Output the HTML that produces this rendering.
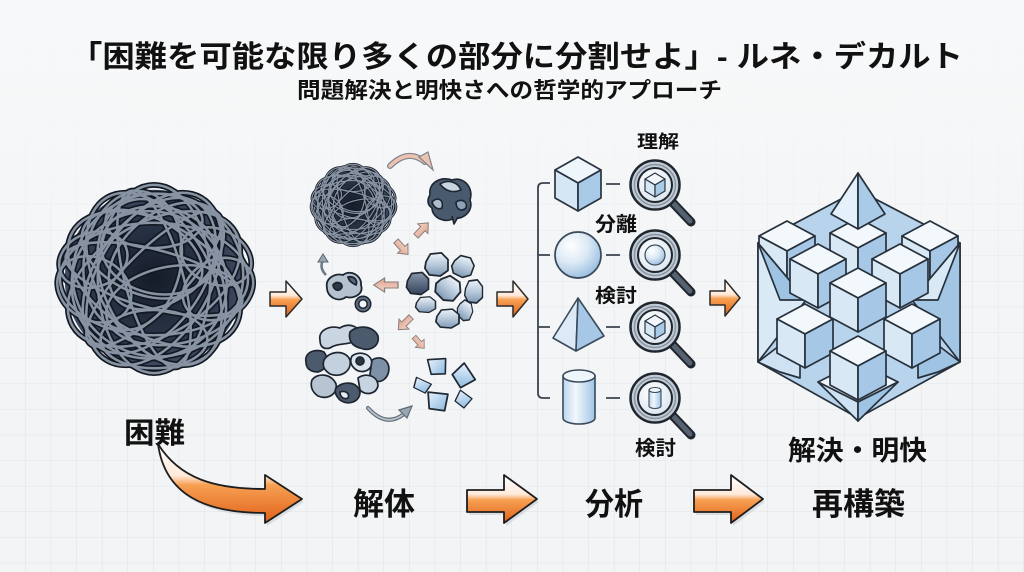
<!DOCTYPE html>
<html><head><meta charset="utf-8">
<style>
html,body{margin:0;padding:0;width:1024px;height:572px;overflow:hidden;background:#f3f5f7}
svg{display:block}
text{font-family:"Liberation Sans","Noto Sans CJK JP",sans-serif;font-weight:700;fill:#111}
</style></head><body>
<svg width="1024" height="572" viewBox="0 0 1024 572" xmlns="http://www.w3.org/2000/svg" xmlns:xlink="http://www.w3.org/1999/xlink">
<defs>
<pattern id="grid" width="25.6" height="25.6" patternUnits="userSpaceOnUse">
<path d="M25.6 0 V25.6 M0 25.6 H25.6" stroke="#dde2e7" stroke-width="1" fill="none"/>
</pattern>
<linearGradient id="bgfade" x1="0" y1="0" x2="0" y2="1">
<stop offset="0" stop-color="#f7f8f9" stop-opacity="1"/>
<stop offset="0.2" stop-color="#f7f8f9" stop-opacity="0.85"/>
<stop offset="0.45" stop-color="#f7f8f9" stop-opacity="0.25"/>
<stop offset="1" stop-color="#f7f8f9" stop-opacity="0"/>
</linearGradient>
<radialGradient id="ballbg" cx="0.5" cy="0.5" r="0.5">
<stop offset="0" stop-color="#151c27"/>
<stop offset="0.7" stop-color="#2a364a"/>
<stop offset="1" stop-color="#3e4b62"/>
</radialGradient>
<linearGradient id="og" x1="0" y1="0" x2="0" y2="1">
<stop offset="0" stop-color="#ffffff"/>
<stop offset="0.4" stop-color="#ffeadb"/>
<stop offset="0.52" stop-color="#f7a052"/>
<stop offset="1" stop-color="#df611a"/>
</linearGradient>
<linearGradient id="peach" x1="0" y1="0" x2="0" y2="1">
<stop offset="0" stop-color="#f6d6c8"/>
<stop offset="1" stop-color="#dca390"/>
</linearGradient>
<linearGradient id="rockg" x1="0" y1="0" x2="0" y2="1">
<stop offset="0" stop-color="#eef3f8"/>
<stop offset="0.5" stop-color="#b9cadb"/>
<stop offset="1" stop-color="#7f99b3"/>
</linearGradient>
<linearGradient id="darkrock" x1="0" y1="0" x2="0" y2="1">
<stop offset="0" stop-color="#8797aa"/>
<stop offset="1" stop-color="#34425a"/>
</linearGradient>
<linearGradient id="cryst" x1="0" y1="0" x2="1" y2="1">
<stop offset="0" stop-color="#e8f2fb"/>
<stop offset="1" stop-color="#86b5de"/>
</linearGradient>
<radialGradient id="sph" cx="0.35" cy="0.3" r="0.75">
<stop offset="0" stop-color="#ffffff"/>
<stop offset="0.5" stop-color="#dce9f5"/>
<stop offset="1" stop-color="#98bddf"/>
</radialGradient>
<linearGradient id="cyl" x1="0" y1="0" x2="1" y2="0">
<stop offset="0" stop-color="#bcd7ee"/>
<stop offset="0.4" stop-color="#f1f7fc"/>
<stop offset="1" stop-color="#9fc4e5"/>
</linearGradient>
<radialGradient id="lens" cx="0.4" cy="0.35" r="0.7">
<stop offset="0" stop-color="#ffffff"/>
<stop offset="1" stop-color="#dbe6f0"/>
</radialGradient>

<g id="loops" fill="none">
<ellipse rx="97" ry="58"/>
<ellipse rx="97" ry="58" transform="rotate(30)"/>
<ellipse rx="97" ry="58" transform="rotate(60)"/>
<ellipse rx="97" ry="58" transform="rotate(90)"/>
<ellipse rx="97" ry="58" transform="rotate(120)"/>
<ellipse rx="97" ry="58" transform="rotate(150)"/>
<ellipse rx="94" ry="30" transform="rotate(15)"/>
<ellipse rx="94" ry="30" transform="rotate(75)"/>
<ellipse rx="94" ry="30" transform="rotate(135)"/>
<ellipse cx="4" cy="-4" rx="88" ry="84"/>
<ellipse cx="-5" cy="6" rx="80" ry="76"/>
<ellipse cx="6" cy="6" rx="60" ry="90" transform="rotate(-25)"/>
<ellipse cx="-6" cy="0" rx="55" ry="90" transform="rotate(35)"/>
<ellipse cx="25" cy="-10" rx="68" ry="44" transform="rotate(-40)"/>
<ellipse cx="-22" cy="-18" rx="66" ry="40" transform="rotate(25)"/>
<ellipse cx="-15" cy="25" rx="72" ry="50" transform="rotate(100)"/>
<ellipse cx="15" cy="30" rx="70" ry="40" transform="rotate(-10)"/>
<ellipse cx="0" cy="-30" rx="60" ry="45" transform="rotate(10)"/>
<ellipse cx="-48" cy="40" rx="40" ry="32" transform="rotate(30)"/>
<ellipse cx="52" cy="42" rx="38" ry="30" transform="rotate(-30)"/>
<ellipse cx="-52" cy="-40" rx="36" ry="28" transform="rotate(-20)"/>
<ellipse cx="48" cy="-48" rx="38" ry="28" transform="rotate(25)"/>
<ellipse cx="0" cy="62" rx="55" ry="30"/>
<ellipse cx="0" cy="-60" rx="50" ry="28"/>
</g>

<g id="cube" stroke="#27313c" stroke-width="1.7" stroke-linejoin="round">
<path d="M0,0 L28,15 L0,30 L-28,15Z" fill="#f3f8fc"/>
<path d="M-28,15 L0,30 L0,64 L-28,49Z" fill="#d8e8f5"/>
<path d="M0,30 L28,15 L28,49 L0,64Z" fill="#a6c8e6"/>
</g>

<path id="rock" d="M-10,-3 L-6,-10 L4,-11 L10,-5 L10,5 L3,10 L-7,9 L-11,3Z" fill="url(#rockg)" stroke="#1f2833" stroke-width="1.6" stroke-linejoin="round"/>
<path id="drock" d="M-10,-3 L-6,-10 L4,-11 L10,-5 L10,5 L3,10 L-7,9 L-11,3Z" fill="url(#darkrock)" stroke="#1f2833" stroke-width="1.6" stroke-linejoin="round"/>
<path id="crys" d="M-9,-9 L9,-7 L6,8 L-8,6Z" fill="url(#cryst)" stroke="#1f2833" stroke-width="1.6" stroke-linejoin="round"/>
<path id="parrow" d="M0,-3 H10 V-7 L18,0 L10,7 V3 H0 Z" fill="url(#peach)" stroke="#8c7f7a" stroke-width="1"/>

<g id="mag">
<line x1="17" y1="17" x2="36" y2="37" stroke="#1f262e" stroke-width="9" stroke-linecap="round"/>
<line x1="19" y1="19" x2="35" y2="36" stroke="#56626f" stroke-width="5" stroke-linecap="round"/>
<circle r="24.5" fill="#c3ccd6" stroke="#1f262e" stroke-width="2.5"/>
<circle r="20.5" fill="none" stroke="#8794a2" stroke-width="1.5"/>
<circle r="17" fill="url(#lens)" stroke="#1f262e" stroke-width="2"/>
</g>
<g id="mcube" stroke="#2a3440" stroke-width="1.2" stroke-linejoin="round">
<path d="M0,0 L10,6 L0,12 L-10,6Z" fill="#f0f6fb"/>
<path d="M-10,6 L0,12 L0,24 L-10,18Z" fill="#d6e7f5"/>
<path d="M0,12 L10,6 L10,18 L0,24Z" fill="#a8cae7"/>
</g>
</defs>

<!-- background -->
<rect width="1024" height="572" fill="#f2f4f6"/>
<rect width="1024" height="572" fill="url(#grid)"/>
<rect width="1024" height="572" fill="url(#bgfade)"/>

<!-- titles -->
<text x="70" y="67" font-size="30" textLength="893" lengthAdjust="spacingAndGlyphs">「困難を可能な限り多くの部分に分割せよ」- ルネ・デカルト</text>
<text x="297" y="98" font-size="22" textLength="425" lengthAdjust="spacingAndGlyphs">問題解決と明快さへの哲学的アプローチ</text>

<!-- big tangled ball -->
<g transform="translate(154,279) scale(0.97)">
<circle r="92" fill="url(#ballbg)"/>
<use href="#loops" xlink:href="#loops" stroke="#121822" stroke-width="6"/>
<use href="#loops" xlink:href="#loops" stroke="#8793a2" stroke-width="2.6"/>
</g>

<!-- small arrows orange -->
<g stroke="#2a2a2a" stroke-width="1.5" stroke-linejoin="round" fill="url(#og)">
<path d="M270,292 H286 V281 L302,299 L286,317 V306 H270 Z"/>
<path d="M497,292 H513 V281 L528,299 L513,317 V306 H497 Z"/>
<path d="M710,291 H725 V280 L740,298 L725,316 V305 H710 Z"/>
</g>

<!-- middle: decomposition -->
<g transform="translate(353,205) scale(0.42)">
<circle r="92" fill="url(#ballbg)"/>
<use href="#loops" xlink:href="#loops" stroke="#121822" stroke-width="6.5"/>
<use href="#loops" xlink:href="#loops" stroke="#8793a2" stroke-width="2.8"/>
</g>
<!-- top curved arrow -->
<path d="M390,166 Q408,148 425,162" fill="none" stroke="#7b848e" stroke-width="6" stroke-linecap="round"/>
<path d="M390,166 Q408,148 425,162" fill="none" stroke="#eec2b1" stroke-width="3.5" stroke-linecap="round"/>
<path d="M419,157 L433,170 L428,152Z" fill="#eec2b1" stroke="#7b848e" stroke-width="1.2"/>
<!-- small clump -->
<g transform="translate(450,200)" stroke="#1d2530" stroke-width="1.6" stroke-linejoin="round">
<path d="M-20,-5 C-22,-18 -8,-24 2,-20 C14,-24 24,-12 20,0 C24,10 14,20 4,18 C-4,24 -18,18 -18,8 C-24,4 -22,-2 -20,-5Z" fill="#4a5a6e"/>
<path d="M-10,-16 C-2,-21 8,-18 11,-10 C4,-7 -4,-8 -10,-16Z" fill="#c8d4e0"/>
<path d="M-18,2 C-12,-4 -6,0 -8,8 C-12,10 -16,8 -18,2Z" fill="#aebdcc"/>
<path d="M6,2 C12,-2 18,2 16,8 C12,12 6,10 6,2Z" fill="#8ea1b5"/>
<path d="M2,16 L4,24 L8,17" fill="#4a5a6e"/>
</g>
<!-- peach arrows -->
<use href="#parrow" xlink:href="#parrow" transform="translate(416,236) rotate(-47)"/>
<use href="#parrow" xlink:href="#parrow" transform="translate(396,241) rotate(48)"/>
<use href="#parrow" xlink:href="#parrow" transform="translate(398,285) rotate(180) scale(1.35,1)"/>
<use href="#parrow" xlink:href="#parrow" transform="translate(411,317) rotate(135)"/>
<use href="#parrow" xlink:href="#parrow" transform="translate(414,337) rotate(48) scale(0.85)"/>
<!-- small up arrow -->
<path d="M326,275 Q319,268 323,260" fill="none" stroke="#6e7985" stroke-width="2.5"/>
<path d="M318,262 L323,254 L328,262Z" fill="#9aa6b2" stroke="#5a6570" stroke-width="1"/>
<!-- left pieces -->
<g stroke="#1d2530" stroke-width="1.8" stroke-linejoin="round">
<path d="M327,288 C325,278 335,273 343,275 C351,269 362,276 361,285 C364,294 354,299 346,297 C338,303 327,297 327,288Z" fill="#b4c1cf"/>
<path d="M333,285 C336,281 342,282 342,287 C340,292 334,291 333,285Z" fill="#2d3846"/>
<path d="M348,277 C354,276 358,280 356,285 C352,283 349,281 348,277Z" fill="#5a6a7e"/>
<circle cx="363" cy="304" r="6" fill="none" stroke="#1d2530" stroke-width="5"/>
<circle cx="363" cy="304" r="6" fill="none" stroke="#5d6c7e" stroke-width="2"/>
</g>
<!-- right rock cluster -->
<use href="#rock" xlink:href="#rock" transform="translate(437,265) scale(1.1)"/>
<use href="#rock" xlink:href="#rock" transform="translate(463,267) rotate(20)"/>
<use href="#drock" xlink:href="#drock" transform="translate(418,284) scale(1.05)"/>
<use href="#rock" xlink:href="#rock" transform="translate(448,289) scale(1.15) rotate(40)"/>
<use href="#rock" xlink:href="#rock" transform="translate(474,292) scale(0.85,1.1)"/>
<use href="#rock" xlink:href="#rock" transform="translate(426,305) scale(0.95,0.75)"/>
<use href="#rock" xlink:href="#rock" transform="translate(465,311) scale(0.7,0.95) rotate(30)"/>
<use href="#rock" xlink:href="#rock" transform="translate(448,319) scale(1.1,0.9)"/>
<!-- bottom-left clump -->
<g stroke="#1d2530" stroke-width="1.7" stroke-linejoin="round">
<path d="M320,340 C318,330 330,325 340,328 C348,322 362,326 360,338 C352,346 338,342 330,348 C322,350 320,345 320,340Z" fill="#c9d5e1"/>
<path d="M350,332 C358,324 374,326 378,336 C380,346 370,352 360,348 C352,346 348,340 350,332Z" fill="#4b5a6d"/>
<path d="M306,362 C304,352 316,348 324,352 C330,360 326,370 318,372 C310,372 306,368 306,362Z" fill="#4b5a6d"/>
<path d="M324,360 C330,350 346,350 350,360 C352,372 340,378 330,374 C324,370 322,366 324,360Z" fill="#c3d0dd"/>
<path d="M352,356 C360,350 372,354 372,364 C370,372 360,374 354,368 C350,364 350,360 352,356Z" fill="#dce5ee"/>
<circle cx="360" cy="361" r="4" fill="#2b3644"/>
<path d="M372,360 C382,354 392,362 388,374 C384,384 372,384 370,374 Z" fill="#7d90a6"/>
<path d="M312,380 C318,372 332,374 336,384 C338,394 328,400 318,396 C312,392 310,386 312,380Z" fill="#b7c5d3"/>
<path d="M336,388 C344,380 358,382 360,392 C360,402 348,406 340,400 C336,396 334,392 336,388Z" fill="#4b5a6d"/>
<path d="M358,378 C366,372 378,376 378,386 C376,394 366,396 360,390Z" fill="#c6d3e0"/>
<path d="M340,392 C346,390 350,394 348,398 C344,400 340,397 340,392Z" fill="#e6edf4"/>
</g>
<!-- crystals -->
<use href="#crys" xlink:href="#crys" transform="translate(438,367) rotate(-10)"/>
<use href="#crys" xlink:href="#crys" transform="translate(463,377) rotate(50) scale(1.1)"/>
<use href="#crys" xlink:href="#crys" transform="translate(422,386) rotate(20) scale(0.9,0.7)"/>
<use href="#crys" xlink:href="#crys" transform="translate(438,402) scale(1.1)"/>
<use href="#crys" xlink:href="#crys" transform="translate(463,400) rotate(30) scale(0.8)"/>
<!-- bottom gray curved arrow -->
<path d="M368,408 Q386,428 404,414" fill="none" stroke="#5f6a76" stroke-width="4" stroke-linecap="round"/>
<path d="M368,408 Q386,428 404,414" fill="none" stroke="#b9c2cc" stroke-width="1.8" stroke-linecap="round"/>
<path d="M399,410 L412,406 L407,418Z" fill="#9aa6b2" stroke="#5f6a76" stroke-width="1.2"/>

<!-- analysis column -->
<g fill="none" stroke="#3a4350" stroke-width="1.8">
<path d="M550,183 H543 Q538,183 538,188 V393 Q538,398 543,398 H550"/>
<path d="M538,255 H550 M538,327 H550"/>
<path d="M606,184 H620 M606,255 H620 M606,327 H620 M606,398 H620"/>
</g>
<!-- cube -->
<g stroke="#2a3440" stroke-width="1.7" stroke-linejoin="round">
<path d="M578,157 L601,170 L578,183 L555,170Z" fill="#eef5fb"/>
<path d="M555,170 L578,183 L578,211 L555,198Z" fill="#d5e6f4"/>
<path d="M578,183 L601,170 L601,198 L578,211Z" fill="#a8cae7"/>
</g>
<!-- sphere -->
<circle cx="578" cy="255" r="23" fill="url(#sph)" stroke="#3a4a5a" stroke-width="1.7"/>
<!-- pyramid -->
<g stroke="#3a4a5a" stroke-width="1.6" stroke-linejoin="round">
<path d="M578,298 L553,338 L576,351Z" fill="#dbeaf6"/>
<path d="M578,298 L576,351 L604,336Z" fill="#a6c8e6"/>
</g>
<!-- cylinder -->
<path d="M563,376 V418 A16,6 0 0 0 595,418 V376 Z" fill="url(#cyl)" stroke="#3a4a5a" stroke-width="1.6"/>
<ellipse cx="579" cy="376" rx="16" ry="6" fill="#eef5fb" stroke="#3a4a5a" stroke-width="1.6"/>
<!-- magnifiers -->
<use href="#mag" xlink:href="#mag" x="655" y="185"/>
<use href="#mag" xlink:href="#mag" x="655" y="255"/>
<use href="#mag" xlink:href="#mag" x="655" y="327"/>
<use href="#mag" xlink:href="#mag" x="655" y="398"/>
<use href="#mcube" xlink:href="#mcube" x="655" y="173"/>
<circle cx="655" cy="255" r="10" fill="url(#sph)" stroke="#3a4a5a" stroke-width="1.2"/>
<use href="#mcube" xlink:href="#mcube" x="655" y="315"/>
<path d="M649,390 V406 A6,2.5 0 0 0 661,406 V390 Z" fill="url(#cyl)" stroke="#3a4a5a" stroke-width="1.1"/>
<ellipse cx="655" cy="390" rx="6" ry="2.5" fill="#eef5fb" stroke="#3a4a5a" stroke-width="1.1"/>

<!-- labels analysis -->
<text x="637" y="148" font-size="18" textLength="42" lengthAdjust="spacingAndGlyphs">理解</text>
<text x="595" y="231" font-size="20" textLength="42" lengthAdjust="spacingAndGlyphs">分離</text>
<text x="595" y="302" font-size="19" textLength="42" lengthAdjust="spacingAndGlyphs">検討</text>
<text x="635" y="455" font-size="20" textLength="41" lengthAdjust="spacingAndGlyphs">検討</text>

<!-- cube cluster -->
<g stroke="#27313c" stroke-width="1.7" stroke-linejoin="round">
<path d="M858,190 L960,243 L960,362 L858,418 L758,362 L758,243Z" fill="#b8d4ec"/>
</g>
<use href="#cube" xlink:href="#cube" x="787" y="221"/>
<use href="#cube" xlink:href="#cube" x="930" y="221"/>
<g stroke="#27313c" stroke-width="1.7" stroke-linejoin="round">
<path d="M758,243 L806,300 L758,362Z" fill="#d9e9f6"/>
<path d="M758,243 L806,300 L780,300Z" fill="#9fc3e3"/>
<path d="M960,243 L912,300 L960,362Z" fill="#a3c6e5"/>
<path d="M960,243 L912,300 L938,300Z" fill="#d9e9f6"/>
<path d="M758,362 L800,330 L800,378 L780,372Z" fill="#cfe2f3"/>
<path d="M960,362 L918,330 L918,378 L938,372Z" fill="#9fc3e3"/>
</g>
<use href="#cube" xlink:href="#cube" x="858" y="218"/>
<g stroke="#27313c" stroke-width="1.7" stroke-linejoin="round">
<path d="M858,173 L831,214 L858,229Z" fill="#e4f0fa"/>
<path d="M858,173 L858,229 L885,214Z" fill="#a9cbe8"/>
</g>
<use href="#cube" xlink:href="#cube" x="818" y="244"/>
<use href="#cube" xlink:href="#cube" x="900" y="244"/>
<use href="#cube" xlink:href="#cube" x="805" y="304"/>
<use href="#cube" xlink:href="#cube" x="912" y="304"/>
<use href="#cube" xlink:href="#cube" x="858" y="268"/>
<g stroke="#27313c" stroke-width="1.7" stroke-linejoin="round">
<path d="M818,382 L858,362 L898,382 L858,402Z" fill="#eef5fb"/>
<path d="M818,382 L858,402 L858,421Z" fill="#cfe2f3"/>
<path d="M858,402 L898,382 L858,421Z" fill="#9fc3e3"/>
</g>
<use href="#cube" xlink:href="#cube" x="858" y="336"/>

<!-- labels -->
<text x="124" y="443" font-size="29" textLength="61" lengthAdjust="spacingAndGlyphs">困難</text>
<text x="788" y="460" font-size="27" textLength="139" lengthAdjust="spacingAndGlyphs">解決・明快</text>

<!-- bottom flow arrows -->
<g fill="#cfd4da" opacity="0.7">
<path d="M160,447 C167,498 207,516 267,516 L267,526 L304,502 L267,478 L267,492 C217,492 182,482 160,447Z"/>
<path d="M469,493 H506 V478 L539,502 L506,526 V515 H469 Z"/>
<path d="M696,493 H733 V478 L765,502 L733,526 V515 H696 Z"/>
</g>
<g stroke="#1e1e1e" stroke-width="1.8" stroke-linejoin="round">
<path d="M158,444 C165,495 205,513 265,513 L265,523 L302,499 L265,475 L265,489 C215,489 180,479 158,444Z" fill="url(#og)"/>
<path d="M467,490 H504 V475 L537,499 L504,523 V512 H467 Z" fill="url(#og)"/>
<path d="M694,490 H731 V475 L763,499 L731,523 V512 H694 Z" fill="url(#og)"/>
</g>
<text x="353" y="515" font-size="31" textLength="62" lengthAdjust="spacingAndGlyphs">解体</text>
<text x="585" y="515" font-size="31" textLength="58" lengthAdjust="spacingAndGlyphs">分析</text>
<text x="812" y="515" font-size="31" textLength="93" lengthAdjust="spacingAndGlyphs">再構築</text>
</svg>
</body></html>
